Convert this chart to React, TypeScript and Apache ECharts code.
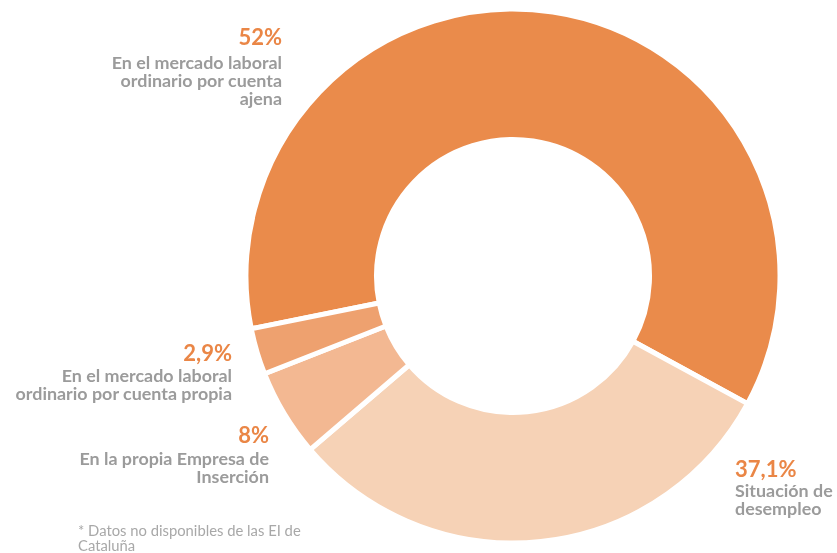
import React, { useEffect, useRef } from "react";
import * as echarts from "echarts";

const categories = [
  "En el mercado laboral ordinario por cuenta ajena",
  "Situación de desempleo",
  "En la propia Empresa de Inserción",
  "En el mercado laboral ordinario por cuenta propia",
];
// slice sizes as drawn in the picture (angles measured)
const sliceValues = [61.1, 30.8, 5.3, 2.8];
// percentages as printed on the labels
const labelPercents = ["52%", "37,1%", "8%", "2,9%"];
const labelLines = [
  ["En el mercado laboral", "ordinario por cuenta", "ajena"],
  ["Situación de", "desempleo"],
  ["En la propia Empresa de", "Inserción"],
  ["En el mercado laboral", "ordinario por cuenta propia"],
];
const sliceColors = ["#EA8B4B", "#F6D2B6", "#F3B892", "#EEA16F"];
const footnote = ["* Datos no disponibles de las EI de", "Cataluña"];

const FONT = "Lato, 'Noto Sans', sans-serif";
const ORANGE_TEXT = "#EA8646";
const GRAY_TEXT = "#9B9B9B";

// label anchors: x, align, baseline of percent line, baseline of first name line
const labelAnchors = [
  { x: 282, align: "right", pctY: 45, lineY: 69 },
  { x: 735, align: "left", pctY: 477, lineY: 497 },
  { x: 269, align: "right", pctY: 443, lineY: 465 },
  { x: 232, align: "right", pctY: 361, lineY: 382 },
];

export default function App() {
  const ref = useRef<HTMLDivElement>(null);
  useEffect(() => {
    if (!ref.current) return;
    const chart = echarts.init(ref.current, undefined, { renderer: "svg" });
    const graphics: any[] = [];
    labelAnchors.forEach((a, i) => {
      graphics.push({
        type: "text",
        x: a.x,
        y: a.pctY + 2,
        style: {
          text: labelPercents[i],
          fill: ORANGE_TEXT,
          font: `bold 22px ${FONT}`,
          align: a.align,
          verticalAlign: "bottom",
        },
      });
      graphics.push({
        type: "text",
        x: a.x,
        y: a.lineY - 16,
        style: {
          text: labelLines[i].join("\n"),
          fill: GRAY_TEXT,
          font: `bold 17.9px ${FONT}`,
          lineHeight: 18,
          align: a.align,
          verticalAlign: "top",
        },
      });
    });
    graphics.push({
      type: "text",
      x: 78,
      y: 522,
      style: {
        text: footnote.join("\n"),
        fill: "#A8A8A8",
        font: `14.8px ${FONT}`,
        lineHeight: 15,
        align: "left",
        verticalAlign: "top",
      },
    });
    chart.setOption({
      animation: false,
      graphic: graphics,
      series: [
        {
          type: "pie",
          center: [513, 276],
          radius: [136.5, 267],
          startAngle: 191.4,
          clockwise: true,
          label: { show: false },
          labelLine: { show: false },
          itemStyle: { borderColor: "#ffffff", borderWidth: 5 },
          emphasis: { disabled: true },
          data: categories.map((c, i) => ({
            name: c,
            value: sliceValues[i],
            itemStyle: { color: sliceColors[i] },
          })),
        },
      ],
    });
    return () => chart.dispose();
  }, []);
  return (
    <div
      ref={ref}
      style={{ position: "fixed", left: 0, top: 0, width: 837, height: 553 }}
    />
  );
}
